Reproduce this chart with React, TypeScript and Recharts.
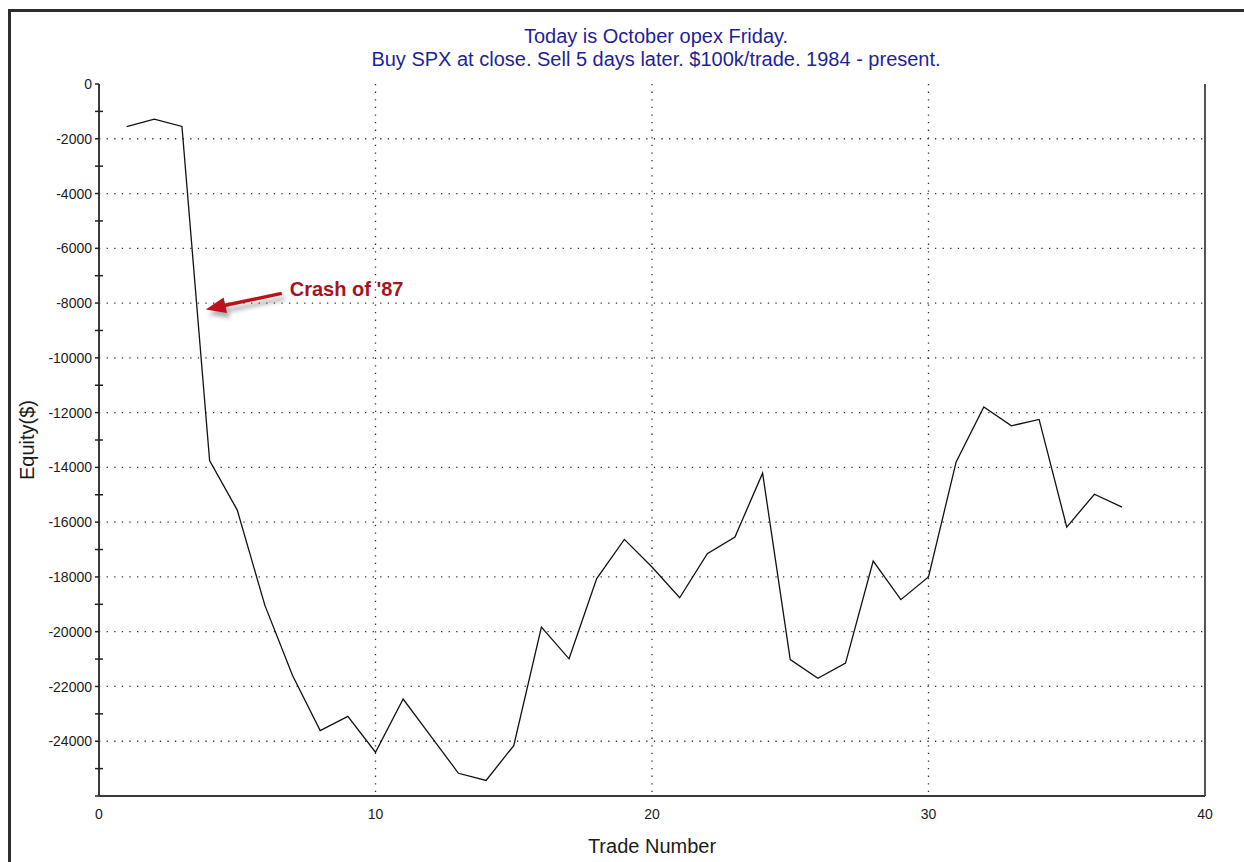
import React from "react"
import { LineChart, Line, XAxis, YAxis, CartesianGrid, ReferenceLine, ReferenceDot, Label } from "recharts"

// trade number -> cumulative equity ($)
const trades = [1, 2, 3, 4, 5, 6, 7, 8, 9, 10, 11, 12, 13, 14, 15, 16, 17, 18, 19, 20, 21, 22, 23, 24, 25, 26, 27, 28, 29, 30, 31, 32, 33, 34, 35, 36, 37]
const equity = [-1560, -1280, -1550, -13750, -15560, -19040, -21600, -23610, -23090, -24400, -22460, -23810, -25170, -25430, -24160, -19830, -20990, -18060, -16630, -17640, -18760, -17150, -16540, -14210, -21020, -21700, -21150, -17420, -18830, -18000, -13800, -11790, -12480, -12250, -16180, -14980, -15450]

const xTicks = [0, 10, 20, 30, 40]
const xGrid = [10, 20, 30]
const yTicks = Array.from({ length: 27 }, (_, i) => -i * 1000)
const yGrid = [-2000, -4000, -6000, -8000, -10000, -12000, -14000, -16000, -18000, -20000, -22000, -24000]

const data = trades.map((t, i) => ({ trade: t, equity: equity[i] }))

const FONT = "'Liberation Sans', Arial, sans-serif"
const INK = "#1c1c1c"

const YTick = (p: any) => {
    const v = p.payload.value
    const major = v % 2000 === 0
    return (
        <g>
            <line x1={p.x - 4} x2={major ? p.x : p.x + 4} y1={p.y} y2={p.y} stroke="#222" strokeWidth={1.5} />
            {major && v !== -26000 && (
                <text x={p.x - 7} y={p.y} dy="0.36em" textAnchor="end" fontSize={14} fontFamily={FONT} fill={INK}>{v}</text>
            )}
        </g>
    )
}

const TopTick = (p: any) => (
    <line x1={p.x} x2={p.x} y1={p.y - 4} y2={p.y + 4} stroke="#222" strokeWidth={1.5} />
)

const CrashNote = (p: any) => {
    const { cx, cy } = p
    const arrow = "0,0 21.2,3.7 20,-2.4 76.4,-14.3 75.6,-17.7 19.2,-5.8 17.9,-11.9"
    return (
        <g>
            <defs>
                <filter id="shade" x="-30%" y="-80%" width="160%" height="260%">
                    <feGaussianBlur stdDeviation="2" />
                </filter>
            </defs>
            <g transform={`translate(${cx},${cy})`}>
                <polygon points={arrow} transform="translate(3,5)" fill="#777" opacity={0.6} filter="url(#shade)" />
                <polygon points={arrow} fill="#c0101a" />
                <text x={84} y={-13} fontSize={20} fontWeight="bold" fontFamily={FONT} fill="#a8121e">Crash of '87</text>
            </g>
        </g>
    )
}

export default function App() {
    return (
        <div style={{ position: "absolute", left: 0, top: 0, width: 1244, height: 862, background: "#fff", overflow: "hidden" }}>
            <div style={{ position: "absolute", left: 8, top: 9, right: -20, bottom: -20, borderTop: "3px solid #2e2e2e", borderLeft: "3px solid #2e2e2e" }} />
            <div style={{ position: "absolute", left: 0, width: 1312, top: 25, fontFamily: FONT, fontSize: 20, lineHeight: "23px", color: "#1f1f9a", textAlign: "center" }}>
                <div>Today is October opex Friday.</div>
                <div>Buy SPX at close. Sell 5 days later. $100k/trade. 1984 - present.</div>
            </div>
            <div style={{ position: "absolute", left: 0, top: 0 }}>
                <LineChart width={1244} height={862} data={data} margin={{ top: 84, right: 39, bottom: 26, left: 9 }}>
                    <CartesianGrid horizontalValues={yGrid} verticalValues={xGrid} stroke="#333" strokeWidth={1.3} strokeDasharray="1.3 6.3" />
                    <XAxis dataKey="trade" type="number" domain={[0, 40]} ticks={xTicks} height={40}
                        tickLine={false} tickSize={0} tickMargin={13}
                        axisLine={{ stroke: "#3a3a3a", strokeWidth: 2 }}
                        tick={{ fill: INK, fontSize: 14, fontFamily: FONT }}>
                        <Label content={(p: any) => (
                            <text x={p.viewBox.x + p.viewBox.width / 2} y={p.viewBox.y + 50} dy="0.36em" textAnchor="middle" fontSize={20} fontFamily={FONT} fill={INK}>Trade Number</text>
                        )} />
                    </XAxis>
                    <XAxis xAxisId="top" orientation="top" dataKey="trade" type="number" domain={[0, 40]} ticks={xGrid} height={0}
                        tickLine={false} tickSize={0} tickMargin={0} tick={TopTick}
                        axisLine={{ stroke: "#555", strokeWidth: 2 }} />
                    <YAxis type="number" domain={[-26000, 0]} ticks={yTicks} width={90} interval={0}
                        tickLine={false} tickSize={0} tickMargin={0} tick={YTick}
                        axisLine={{ stroke: "#3a3a3a", strokeWidth: 2 }}>
                        <Label content={(p: any) => {
                            const x = p.viewBox.x + 18
                            const y = p.viewBox.y + p.viewBox.height / 2
                            return <text x={x} y={y} dy="0.36em" transform={`rotate(-90,${x},${y})`} textAnchor="middle" fontSize={20} fontFamily={FONT} fill={INK}>Equity($)</text>
                        }} />
                    </YAxis>
                    <ReferenceLine x={40} stroke="#555" strokeWidth={2} />
                    <Line type="linear" dataKey="equity" stroke="#111" strokeWidth={1.3} dot={false} isAnimationActive={false} />
                    <ReferenceDot x={3.86} y={-8230} r={0} shape={CrashNote} />
                </LineChart>
            </div>
        </div>
    )
}
